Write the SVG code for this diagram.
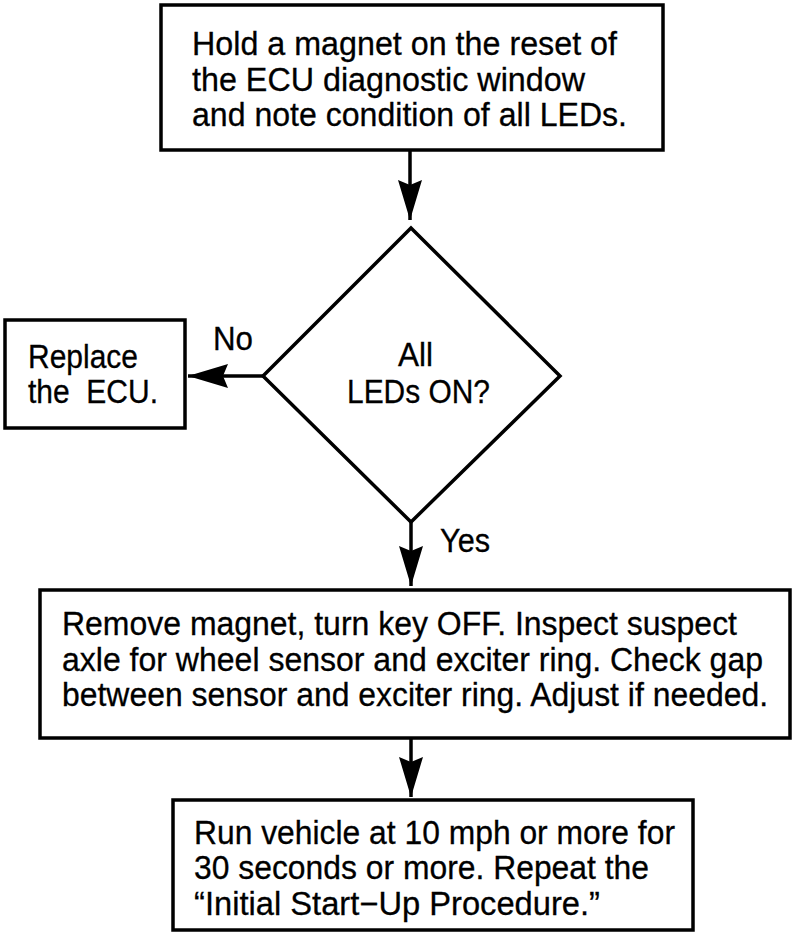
<svg xmlns="http://www.w3.org/2000/svg" width="800" height="940" viewBox="0 0 800 940">
<defs>
<style>
.box{fill:#fff;stroke:#000;stroke-width:3.5}
.t{font-family:"Liberation Sans",Arial,sans-serif;font-size:33px;fill:#000;stroke:#000;stroke-width:0.3}
.c{stroke:#000;stroke-width:3.5;fill:none}
</style>
<marker id="ah" markerUnits="userSpaceOnUse" markerWidth="44" markerHeight="28" viewBox="-42 -14 44 28" refX="0" refY="0" orient="auto">
<path d="M0,0 L-40,-12 L-35,0 L-40,12 Z" fill="#000"/>
</marker>
</defs>
<rect width="800" height="940" fill="#fff"/>
<g id="connectors">
<line class="c" x1="410" y1="150" x2="410" y2="220" marker-end="url(#ah)"/>
<line class="c" x1="263" y1="376" x2="188" y2="376" marker-end="url(#ah)"/>
<line class="c" x1="411" y1="522" x2="411" y2="586" marker-end="url(#ah)"/>
<line class="c" x1="411" y1="738" x2="411" y2="797" marker-end="url(#ah)"/>
<text class="t" x="213" y="350" textLength="40" lengthAdjust="spacingAndGlyphs">No</text>
<text class="t" x="440" y="552" textLength="50" lengthAdjust="spacingAndGlyphs">Yes</text>
</g>
<g id="start">
<rect class="box" x="161" y="5" width="502" height="145"/>
<text class="t" x="192" y="55" textLength="425" lengthAdjust="spacingAndGlyphs">Hold a magnet on the reset of</text>
<text class="t" x="192" y="91" textLength="393" lengthAdjust="spacingAndGlyphs">the ECU diagnostic window</text>
<text class="t" x="192" y="126" textLength="435" lengthAdjust="spacingAndGlyphs">and note condition of all LEDs.</text>
</g>
<g id="decision">
<polygon class="box" points="411,228 560,376 411,522 263,376"/>
<text class="t" x="398" y="366" textLength="35" lengthAdjust="spacingAndGlyphs">All</text>
<text class="t" x="347" y="403" textLength="143" lengthAdjust="spacingAndGlyphs">LEDs ON?</text>
</g>
<g id="replace">
<rect class="box" x="5" y="320" width="180" height="108"/>
<text class="t" x="28" y="368" textLength="110" lengthAdjust="spacingAndGlyphs">Replace</text>
<text class="t" x="28" y="403" textLength="130" lengthAdjust="spacingAndGlyphs">the&#160; ECU.</text>
</g>
<g id="inspect">
<rect class="box" x="40" y="590" width="750" height="148"/>
<text class="t" x="62" y="635" textLength="675" lengthAdjust="spacingAndGlyphs">Remove magnet, turn key OFF. Inspect suspect</text>
<text class="t" x="62" y="671" textLength="701" lengthAdjust="spacingAndGlyphs">axle for wheel sensor and exciter ring. Check gap</text>
<text class="t" x="62" y="706" textLength="706" lengthAdjust="spacingAndGlyphs">between sensor and exciter ring. Adjust if needed.</text>
</g>
<g id="run">
<rect class="box" x="173" y="800" width="520" height="130"/>
<text class="t" x="194" y="844" textLength="481" lengthAdjust="spacingAndGlyphs">Run vehicle at 10 mph or more for</text>
<text class="t" x="194" y="879" textLength="455" lengthAdjust="spacingAndGlyphs">30 seconds or more. Repeat the</text>
<text class="t" x="194" y="915" textLength="406" lengthAdjust="spacingAndGlyphs">“Initial Start−Up Procedure.”</text>
</g>
</svg>
